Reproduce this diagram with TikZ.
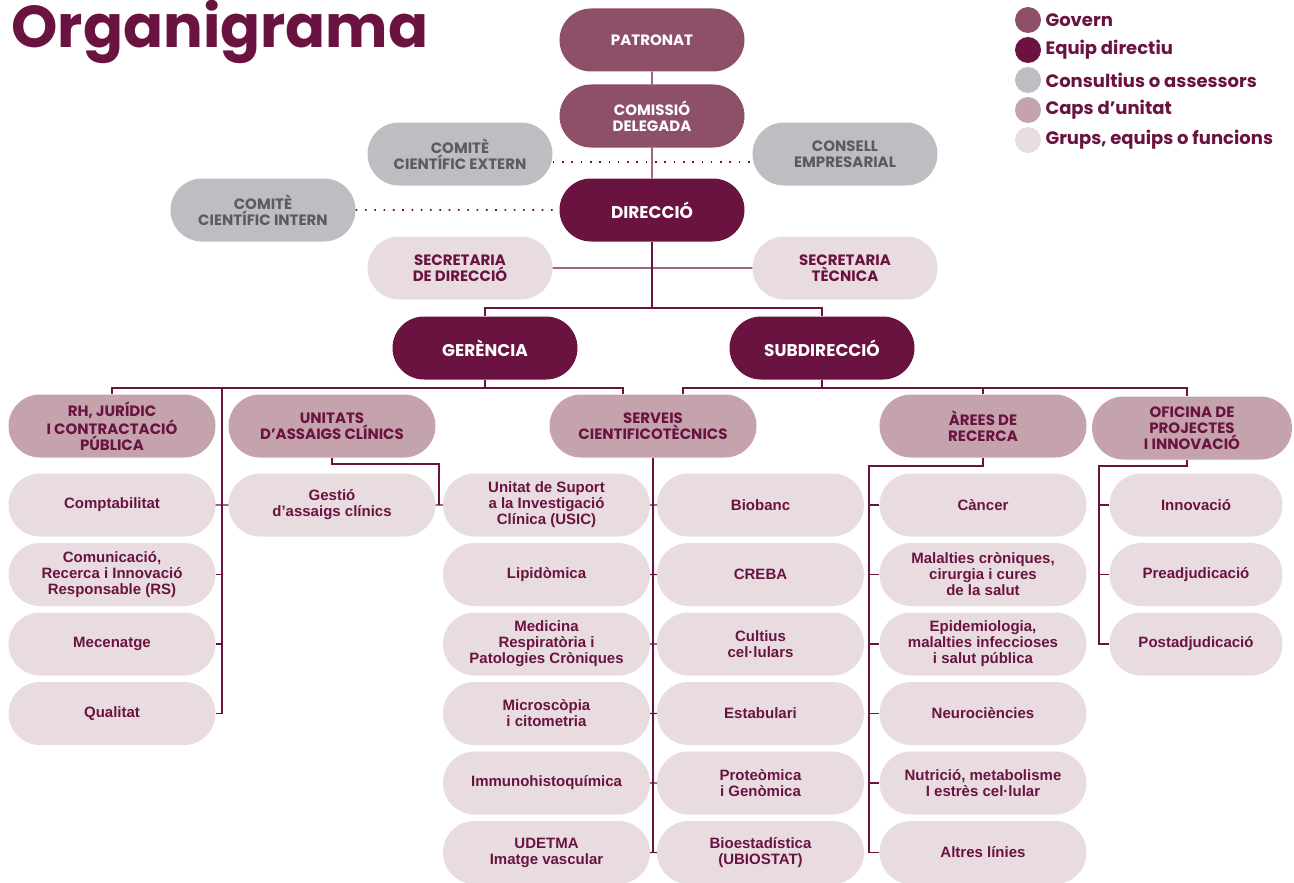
\documentclass[tikz,border=0pt]{standalone}
\usepackage{fontspec}
\setmainfont{Liberation Sans}
\newfontfamily\popfont{Poppins}
\usepackage{tikz}
\usetikzlibrary{positioning, shapes.misc}

\definecolor{cGovern}{HTML}{8E5069}
\definecolor{cEquip}{HTML}{6B1340}
\definecolor{cConsult}{HTML}{BDBEC1}
\definecolor{cCaps}{HTML}{C4A3AD}
\definecolor{cGrups}{HTML}{E8DCE0}
\definecolor{cVi}{HTML}{6B1340}
\definecolor{cGris}{HTML}{5B5C5F}

\begin{document}
\begin{tikzpicture}[x=1pt,y=-1pt,node distance=69.5pt,on grid,
    pill/.style={rounded rectangle, minimum width=185pt, minimum height=63pt, inner sep=0pt, align=center},
    govern/.style={pill, fill=cGovern, text=white, font=\popfont\bfseries\fontsize{15}{16}\selectfont},
    equip/.style={pill, fill=cEquip, text=white, font=\popfont\bfseries\fontsize{17}{18}\selectfont},
    consult/.style={pill, fill=cConsult, text=cGris, font=\popfont\bfseries\fontsize{15}{16}\selectfont},
    capbox/.style={pill, minimum width=207pt, fill=cCaps, text=cVi, font=\popfont\bfseries\fontsize{15}{16}\selectfont},
    secr/.style={pill, fill=cGrups, text=cVi, font=\popfont\bfseries\fontsize{15}{16}\selectfont},
    grup/.style={pill, minimum width=207pt, fill=cGrups, text=cVi, font=\bfseries\fontsize{15}{16}\selectfont},
    grupb/.style={grup, minimum width=173pt},
    link/.style={draw=cVi, line width=1.3pt},
    dots/.style={draw=cVi, line width=1.6pt, dash pattern=on 1.6pt off 7.7pt}]

    \useasboundingbox (0,0) rectangle (1294,883);

    % title and legend
    \node[anchor=west, text=cVi, font=\popfont\bfseries\fontsize{59}{59}\selectfont] (titol) at (8,32) {Organigrama};
    \foreach \c/\t [count=\i] in {cGovern/Govern, cEquip/Equip directiu, cConsult/Consultius o assessors,
        cCaps/Caps d’unitat, cGrups/{Grups, equips o funcions}} {
      \node[circle, fill=\c, minimum size=26pt, inner sep=0pt] (dot\i) at (1028,{20+30*(\i-1)}) {};
      \node[anchor=west, text=cVi, font=\popfont\bfseries\fontsize{18}{20}\selectfont] (leg\i) at (1042,{20+30*(\i-1)}) {\t};
    }

    % govern and direction
    \node[govern] (patronat) at (652,40) {PATRONAT};
    \node[govern] (comissio) at (652,116) {COMISSIÓ\\DELEGADA};
    \node[consult] (cext) at (460,154) {COMITÈ\\CIENTÍFIC EXTERN};
    \node[consult] (consell) at (845,154) {CONSELL\\EMPRESARIAL};
    \node[equip] (direccio) at (652,210) {DIRECCIÓ};
    \node[consult] (cint) at (263,210) {COMITÈ\\CIENTÍFIC INTERN};
    \node[secr] (sdir) at (460,268) {SECRETARIA\\DE DIRECCIÓ};
    \node[secr] (stec) at (845,268) {SECRETARIA\\TÈCNICA};
    \node[equip] (gerencia) at (485,348) {GERÈNCIA};
    \node[equip] (subdir) at (822,348) {SUBDIRECCIÓ};

    % unit heads
    \node[capbox] (rh) at (112,426) {RH, JURÍDIC\\I CONTRACTACIÓ\\PÚBLICA};
    \node[capbox] (unitats) at (332,426) {UNITATS\\D’ASSAIGS CLÍNICS};
    \node[capbox] (serveis) at (653,426) {SERVEIS\\CIENTIFICOTÈCNICS};
    \node[capbox] (arees) at (983,426) {ÀREES DE\\RECERCA};
    \node[capbox, minimum width=200pt] (oficina) at (1192,428) {OFICINA DE\\PROJECTES\\I INNOVACIÓ};

    % groups
    \node[grup] (comptab) at (112,505) {Comptabilitat};
    \node[grup, below=of comptab] (comunic) {Comunicació,\\Recerca i Innovació\\Responsable (RS)};
    \node[grup, below=of comunic] (mecenat) {Mecenatge};
    \node[grup, below=of mecenat] (qualitat) {Qualitat};

    \node[grup] (gestio) at (332,505) {Gestió\\d’assaigs clínics};

    \node[grup] (usic) at (546.5,505) {Unitat de Suport\\a la Investigació\\Clínica (USIC)};
    \node[grup, below=of usic] (lipid) {Lipidòmica};
    \node[grup, below=of lipid] (medicina) {Medicina\\Respiratòria i\\Patologies Cròniques};
    \node[grup, below=of medicina] (micro) {Microscòpia\\i citometria};
    \node[grup, below=of micro] (immuno) {Immunohistoquímica};
    \node[grup, below=of immuno] (udetma) {UDETMA\\Imatge vascular};

    \node[grup] (biobanc) at (760.5,505) {Biobanc};
    \node[grup, below=of biobanc] (creba) {CREBA};
    \node[grup, below=of creba] (cultius) {Cultius\\cel·lulars};
    \node[grup, below=of cultius] (estab) {Estabulari};
    \node[grup, below=of estab] (proteo) {Proteòmica\\i Genòmica};
    \node[grup, below=of proteo] (bioest) {Bioestadística\\(UBIOSTAT)};

    \node[grup] (cancer) at (983,505) {Càncer};
    \node[grup, below=of cancer] (cronic) {Malalties cròniques,\\cirurgia i cures\\de la salut};
    \node[grup, below=of cronic] (epidem) {Epidemiologia,\\malalties infeccioses\\i salut pública};
    \node[grup, below=of epidem] (neuro) {Neurociències};
    \node[grup, below=of neuro] (nutri) {Nutrició, metabolisme\\I estrès cel·lular};
    \node[grup, below=of nutri] (altres) {Altres línies};

    \node[grupb] (innova) at (1196,505) {Innovació};
    \node[grupb, below=of innova] (preadj) {Preadjudicació};
    \node[grupb, below=of preadj] (postadj) {Postadjudicació};

    % connectors
    \coordinate (busd) at (652,308);
    \coordinate (busg) at (485,388);
    \coordinate (buss) at (822,388);
    \coordinate (spl) at (222,388);
    \coordinate (kg) at (623,388);
    \coordinate (ks) at (683,388);
    \coordinate (ko) at (1187,388);
    \coordinate (ku) at (439,464);
    \coordinate (ka) at (869,466);
    \coordinate (kb) at (1099,466);

    \draw[link] (patronat) -- (comissio);
    \draw[link] (comissio) -- (direccio);
    \draw[dots] ([yshift=-8pt]cext.east) -- ([yshift=-8pt]consell.west);
    \draw[dots] (cint) -- (direccio);
    \draw[link] (sdir) -- (stec);
    \draw[link] (direccio) -- (busd);
    \draw[link] (gerencia.north) |- (busd) -| (subdir.north);

    \draw[link] (gerencia) -- (busg);
    \draw[link] (rh.north) |- (busg) -| (serveis.north -| kg);
    \draw[link] (spl) |- (qualitat.east);
    \foreach \n in {comunic, mecenat}
      \draw[link] (\n.east) -- (\n.east -| spl);
    \draw[link] (comptab) -- (gestio);
    \draw[link] (gestio) -- (usic);
    \draw[link] (unitats.south) |- (ku) -- (ku |- usic.west);

    \draw[link] (subdir) -- (buss);
    \draw[link] (serveis.north -| ks) |- (buss) -| (oficina.north -| ko);
    \draw[link] (buss) -| (arees.north);

    \draw[link] (serveis.south) -- (serveis.south |- udetma.east);
    \foreach \a/\b in {usic/biobanc, lipid/creba, medicina/cultius, micro/estab, immuno/proteo, udetma/bioest}
      \draw[link] (\a) -- (\b);

    \draw[link] (arees.south) |- (ka) |- (altres.west);
    \foreach \n in {cancer, cronic, epidem, neuro, nutri}
      \draw[link] (\n.west) -- (\n.west -| ka);

    \draw[link] (oficina.south -| ko) |- (kb) |- (postadj.west);
    \foreach \n in {innova, preadj}
      \draw[link] (\n.west) -- (\n.west -| kb);
\end{tikzpicture}
\end{document}
